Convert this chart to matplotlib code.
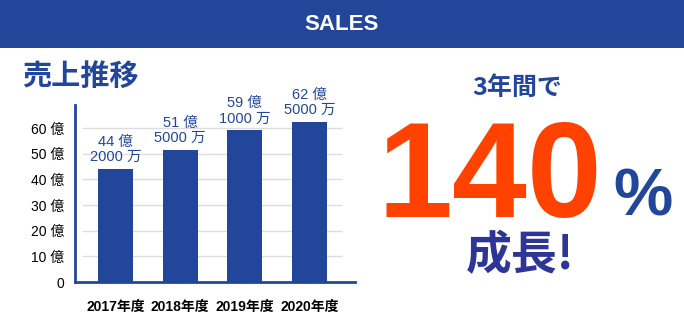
import matplotlib
matplotlib.use("Agg")
import matplotlib.pyplot as plt
from matplotlib.patches import Rectangle

BLUE = "#22479a"
NAVY = "#2d3596"
ORANGE = "#ff4200"
JP = ["Liberation Sans", "Noto Sans CJK JP"]

years = ["2017年度", "2018年度", "2019年度", "2020年度"]
sales = [44.2, 51.5, 59.1, 62.5]  # 億円
sales_labels = ["44 億\n2000 万", "51 億\n5000 万", "59 億\n1000 万", "62 億\n5000 万"]
yticks = [0, 10, 20, 30, 40, 50, 60]
ytick_labels = ["0", "10 億", "20 億", "30 億", "40 億", "50 億", "60 億"]

fig = plt.figure(figsize=(6.84, 3.20), dpi=100)

# header band
fig.patches.append(Rectangle((0, 1 - 48/320), 1, 48/320, transform=fig.transFigure,
                             facecolor=BLUE, edgecolor="none", zorder=0))
fig.text(0.5, 1 - 24/320, "SALES", color="white", fontsize=16, fontweight="bold",
         family=JP, ha="center", va="center")

fig.text(22/684, 1 - 76/320, "売上推移", color=BLUE, fontsize=21, fontweight="bold",
         family=["Noto Sans CJK JP"], ha="left", va="center")

ax = fig.add_axes([75/684, 38/320, 280/684, 177/320])
x = list(range(len(years)))
ax.bar(x, sales, width=0.54, color=BLUE, zorder=2)
ax.hlines(yticks[1:], -0.52, 3.5, color="#dddddd", lw=1, zorder=1)
for xi, v, lab in zip(x, sales, sales_labels):
    ax.annotate(lab, (xi, v), xytext=(0, 5), textcoords="offset pixels",
                ha="center", va="bottom", color=BLUE, fontsize=10.5,
                family=JP, linespacing=1.1)

ax.set_xlim(-0.625, 3.70)
ax.set_ylim(0, 69)
ax.set_yticks(yticks)
ax.set_yticklabels(ytick_labels, family=JP, fontsize=10)
ax.set_xticks(x)
ax.set_xticklabels(years, family=JP, fontsize=10, fontweight="bold")
ax.tick_params(length=0)
ax.tick_params(axis="y", pad=8)
ax.tick_params(axis="x", pad=13)
for s in ["top", "right"]:
    ax.spines[s].set_visible(False)
for s in ["left", "bottom"]:
    ax.spines[s].set_color(BLUE)
    ax.spines[s].set_linewidth(2)

# right side message
fig.text(517/684, 1 - 88/320, "3年間で", color=BLUE, fontsize=18, fontweight="bold",
         family=["Noto Sans CJK JP"], ha="center", va="center")
fig.text(489.5/684, 1 - 217/320, "140", color=ORANGE, fontsize=97, fontweight="bold",
         family=JP, ha="center", va="baseline")
fig.text(643/684, 1 - 215/320, "%", color=BLUE, fontsize=48, fontweight="bold",
         family=JP, ha="center", va="baseline")
fig.text(520/684, 1 - 256/320, "成長!", color=NAVY, fontsize=33, fontweight="bold",
         family=["Noto Sans CJK JP"], ha="center", va="center")

fig.savefig("out.png", dpi=100)
